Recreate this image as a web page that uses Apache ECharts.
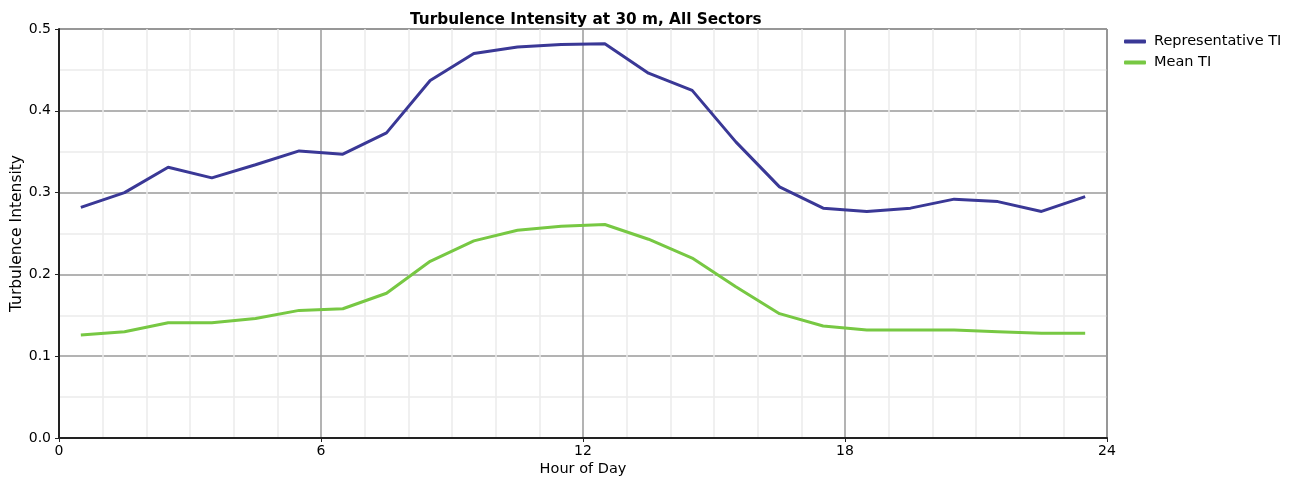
<!DOCTYPE html>
<html>
<head>
<meta charset="utf-8">
<script src="https://cdn.jsdelivr.net/npm/echarts@6/dist/echarts.min.js"></script>
<style>
html,body{margin:0;padding:0;background:#fff;}
#chart{width:1298px;height:480px;}
</style>
</head>
<body>
<div id="chart"></div>
<script>
const hours = [0.5,1.5,2.5,3.5,4.5,5.5,6.5,7.5,8.5,9.5,10.5,11.5,12.5,13.5,14.5,15.5,16.5,17.5,18.5,19.5,20.5,21.5,22.5,23.5];
const representativeTI = [0.282,0.300,0.331,0.318,0.334,0.351,0.347,0.373,0.437,0.470,0.478,0.481,0.482,0.446,0.425,0.362,0.307,0.281,0.277,0.281,0.292,0.289,0.277,0.295];
const meanTI = [0.126,0.130,0.141,0.141,0.146,0.156,0.158,0.177,0.216,0.241,0.254,0.259,0.261,0.243,0.220,0.185,0.152,0.137,0.132,0.132,0.132,0.130,0.128,0.128];
const seriesNames = ['Representative TI','Mean TI'];
const titleText = 'Turbulence Intensity at 30 m, All Sectors';
const xName = 'Hour of Day';
const yName = 'Turbulence Intensity';

const pair = (ys) => hours.map((h,i)=>[h, ys[i]]);
const chart = echarts.init(document.getElementById('chart'), null, {renderer:'canvas'});
const font = '"DejaVu Sans", Verdana, sans-serif';
chart.setOption({
  animation:false,
  backgroundColor:'#fff',
  title:{
    text:titleText, left:405, top:8,
    textStyle:{fontFamily:font, fontSize:15.3, fontWeight:'bold', color:'#000'}
  },
  legend:{
    orient:'vertical', left:1119, top:29, itemGap:6,
    itemWidth:22, itemHeight:4, icon:'roundRect',
    textStyle:{fontFamily:font, fontSize:14.5, color:'#000', padding:[0,0,0,3]},
    data:seriesNames
  },
  grid:{left:59, right:191, top:29, bottom:42, show:true, borderColor:'#222', borderWidth:1,
        backgroundColor:'transparent', containLabel:false, outerBoundsMode:'none'},
  xAxis:{
    type:'value', min:0, max:24, interval:6,
    name:xName, nameLocation:'middle', nameGap:24, nameMoveOverlap:false,
    nameTextStyle:{fontFamily:font, fontSize:14.5, color:'#000'},
    axisLine:{show:true, lineStyle:{color:'#222', width:2}},
    axisTick:{show:true, length:4, lineStyle:{color:'#222'}},
    axisLabel:{fontFamily:font, fontSize:14, color:'#000', margin:6},
    splitLine:{show:true, lineStyle:{color:'#9a9a9a', width:1.5}},
    minorTick:{show:false, splitNumber:6},
    minorSplitLine:{show:true, lineStyle:{color:'#ececec', width:1.5}}
  },
  yAxis:{
    type:'value', min:0, max:0.5, interval:0.1,
    name:yName, nameLocation:'middle', nameGap:34, nameRotate:90, nameMoveOverlap:false,
    nameTextStyle:{fontFamily:font, fontSize:15.5, color:'#000'},
    axisLine:{show:true, lineStyle:{color:'#222', width:2}},
    axisTick:{show:true, length:4, lineStyle:{color:'#222'}},
    axisLabel:{fontFamily:font, fontSize:14, color:'#000', margin:8, formatter:(v)=>v.toFixed(1)},
    splitLine:{show:true, lineStyle:{color:'#9a9a9a', width:1.5}},
    minorTick:{show:false, splitNumber:2},
    minorSplitLine:{show:true, lineStyle:{color:'#ececec', width:1.5}}
  },
  series:[
    {name:seriesNames[0], type:'line', data:pair(representativeTI), showSymbol:false, symbol:'none',
     lineStyle:{color:'#3a3896', width:3}, itemStyle:{color:'#3a3896'}},
    {name:seriesNames[1], type:'line', data:pair(meanTI), showSymbol:false, symbol:'none',
     lineStyle:{color:'#77c843', width:3}, itemStyle:{color:'#77c843'}}
  ]
});
</script>
</body>
</html>
